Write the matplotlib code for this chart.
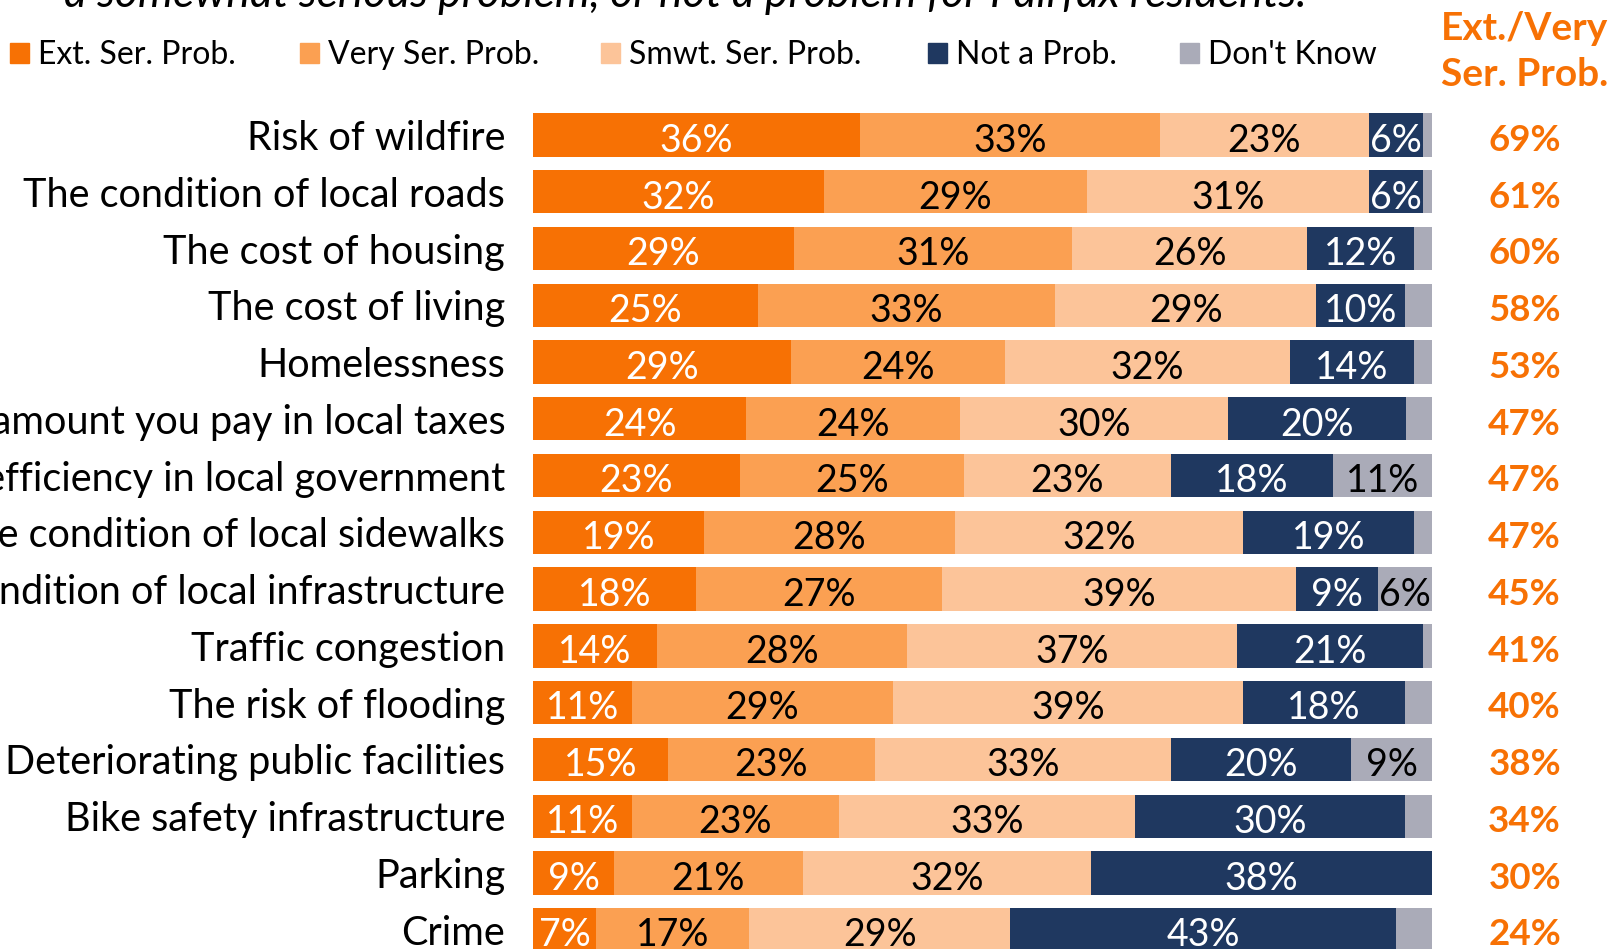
import matplotlib
matplotlib.use("Agg")
import matplotlib.pyplot as plt
from matplotlib.patches import Rectangle

plt.rcParams['font.family'] = ['Lato', 'DejaVu Sans']

# Survey items, top to bottom
items = ["Risk of wildfire", "The condition of local roads", "The cost of housing",
         "The cost of living", "Homelessness", "The amount you pay in local taxes",
         "Inefficiency in local government", "The condition of local sidewalks",
         "The condition of local infrastructure", "Traffic congestion",
         "The risk of flooding", "Deteriorating public facilities",
         "Bike safety infrastructure", "Parking", "Crime"]

# Shares (%)
ext_serious  = [36.4, 32.4, 29.0, 25.0, 28.7, 23.7, 23.0, 19.0, 18.1, 13.8, 11.0, 15.0, 11.0, 9.0, 7.0]
very_serious = [33.3, 29.2, 31.0, 33.1, 23.8, 23.8, 24.9, 27.9, 27.4, 27.8, 29.0, 23.0, 23.0, 21.0, 17.0]
smwt_serious = [23.3, 31.4, 26.1, 29.0, 31.7, 29.8, 23.1, 32.1, 39.4, 36.7, 39.0, 33.0, 33.0, 32.1, 29.1]
not_problem  = [6.0, 6.0, 11.9, 9.9, 13.8, 19.8, 18.0, 19.0, 9.1, 20.7, 18.0, 20.0, 30.0, 37.9, 42.9]
dont_know    = [1.0, 1.0, 2.0, 3.0, 2.0, 2.9, 11.0, 2.0, 6.0, 1.0, 3.0, 9.0, 3.0, 0.0, 4.0]

# Ext./Very serious totals (right column)
ext_very_total = [69, 61, 60, 58, 53, 47, 47, 47, 45, 41, 40, 38, 34, 30, 24]

series_names = ["Ext. Ser. Prob.", "Very Ser. Prob.", "Smwt. Ser. Prob.", "Not a Prob.", "Don't Know"]
series = [ext_serious, very_serious, smwt_serious, not_problem, dont_know]
colors = ["#F77104", "#FBA052", "#FCC499", "#1F3860", "#AAABB8"]
text_colors = ["white", "black", "black", "white", "black"]
accent = "#F77104"

W, H = 1612, 949
fig = plt.figure(figsize=(W / 100, H / 100), dpi=100)

# axes span bar area: x 533..1432 px, rows start at 106.6 px from top
ax = fig.add_axes([533 / W, 0, 899 / W, 1 - 106.6 / H])
ax.set_xlim(0, 100)
ax.set_ylim(14.34, -0.5)

ypos = list(range(len(items)))
left = [0.0] * len(items)
for vals, col, tcol in zip(series, colors, text_colors):
    ax.barh(ypos, vals, left=left, height=0.763, color=col, edgecolor='none')
    for i, v in enumerate(vals):
        if v >= 5.5:
            ax.text(left[i] + v / 2, i + 0.04, f"{round(v)}%", ha='center',
                    va='center_baseline', fontsize=27, color=tcol)
    left = [l + v for l, v in zip(left, vals)]

for i, t in enumerate(ext_very_total):
    ax.text(110.3, i + 0.04, f"{t}%", ha='center', va='center_baseline',
            fontsize=26.5, fontweight='bold', color=accent, clip_on=False)

ax.set_yticks(ypos)
ax.set_yticklabels(items, fontsize=28.5)
ax.tick_params(axis='y', length=0, pad=20)
ax.set_xticks([])
for s in ax.spines.values():
    s.set_visible(False)

# header of right column
fig.text(1525 / W, 1 - 26 / H, "Ext./Very", ha='center', va='center_baseline',
         fontsize=28, fontweight='bold', color=accent)
fig.text(1525 / W, 1 - 71 / H, "Ser. Prob.", ha='center', va='center_baseline',
         fontsize=28, fontweight='bold', color=accent)

# legend row
marker_x = [10, 300, 601, 928, 1180]
for mx, name, col in zip(marker_x, series_names, colors):
    fig.add_artist(Rectangle((mx / W, 1 - 63 / H), 19 / W, 20 / H,
                             transform=fig.transFigure, color=col))
    fig.text((mx + 28) / W, 1 - 52 / H, name, ha='left', va='center_baseline',
             fontsize=23, color='black')

# title, only its last line shows at the top edge
fig.text(64 / W, 1 - 7 / H, "a somewhat serious problem, or not a problem for Fairfax residents.",
         ha='left', va='baseline', fontsize=32, style='italic', color='black')

fig.savefig("out.png", dpi=100)
